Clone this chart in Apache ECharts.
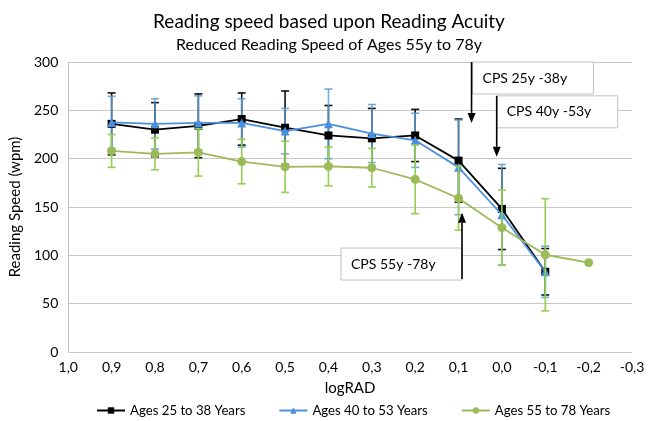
<!DOCTYPE html>
<html>
<head>
<meta charset="utf-8">
<script src="https://cdn.jsdelivr.net/npm/echarts@6/dist/echarts.min.js"></script>
<style>html,body{margin:0;padding:0;background:#fff}#c{width:658px;height:421px}</style>
</head>
<body>
<div id="c"></div>
<script>
// ---- data ----
const xs = [0.9, 0.8, 0.7, 0.6, 0.5, 0.4, 0.3, 0.2, 0.1, 0.0, -0.1];
const xsOlder = [0.9, 0.8, 0.7, 0.6, 0.5, 0.4, 0.3, 0.2, 0.1, 0.0, -0.1, -0.2];
const seriesNames = ['Ages 25 to 38 Years', 'Ages 40 to 53 Years', 'Ages 55 to 78 Years'];
const young = [236, 230, 234, 241, 232, 224, 221, 224, 198, 148, 83];
const youngErr = [32, 28, 33, 27, 38, 31, 31, 27, 43, 42, 24];
const middle = [237.5, 236, 237, 237, 228.5, 236, 226, 219, 191, 142, 83];
const middleErr = [27, 26, 28, 25, 23.5, 36, 30, 28, 49, 52, 26.5];
const older = [208, 205, 206.5, 197, 191.6, 192, 190.6, 178.6, 159, 128.6, 100.6, 92.4];
const olderErr = [17, 16.5, 24.5, 23, 26.5, 20, 20, 35.5, 33, 39, 58, null];
const yTicks = [0, 50, 100, 150, 200, 250, 300];
// annotations: arrow x (logRAD), arrow tail y, arrow tip y (wpm), label
const annX = [0.07, 0.012, 0.092];
const annTail = [300, 265, 75.5];
const annTip = [237, 202, 144];
const annLabels = ['CPS 25y -38y', 'CPS 40y -53y', 'CPS 55y -78y'];
const annPlace = ['rightDown', 'rightDown', 'leftUp'];

const FONT = 'Lato';
const cBlack = '#000000', cBlue = '#4A8FE0', cGreen = '#9BBB59';
const eBlack = '#111111', eBlue = 'rgba(91,155,213,0.85)', eGreen = '#92D050';

function errRender(color) {
  return function (params, api) {
    const x = api.value(0), m = api.value(1), e = api.value(2);
    if (e == null || isNaN(e)) return null;
    const t = api.coord([x, m + e]), b = api.coord([x, m - e]);
    const hw = 4;
    const st = { stroke: color, lineWidth: 1.6 };
    return {
      type: 'group',
      children: [
        { type: 'line', shape: { x1: t[0], y1: t[1], x2: b[0], y2: b[1] }, style: st },
        { type: 'line', shape: { x1: t[0] - hw, y1: t[1], x2: t[0] + hw, y2: t[1] }, style: st },
        { type: 'line', shape: { x1: b[0] - hw, y1: b[1], x2: b[0] + hw, y2: b[1] }, style: st }
      ]
    };
  };
}

function annRender(params, api) {
  const i = params.dataIndex;
  const tail = api.coord([api.value(0), api.value(1)]);
  const tip = api.coord([api.value(0), api.value(2)]);
  const w = 121, h = 32;
  let bx, by;
  if (annPlace[i] === 'rightDown') { bx = tail[0] + (i === 0 ? 1 : 0); by = tail[1]; }
  else { bx = tail[0] - w; by = tail[1] - h + 1; }
  const dir = tip[1] > tail[1] ? 1 : -1;
  const ah = 10, aw = 4;
  return {
    type: 'group',
    children: [
      { type: 'rect', shape: { x: bx, y: by, width: w, height: h },
        style: { fill: '#fff', stroke: '#BFBFBF', lineWidth: 1 } },
      { type: 'text', style: { x: bx + 10, y: by + h / 2, text: annLabels[i], fill: '#000',
          font: '14px ' + FONT, textVerticalAlign: 'middle', textAlign: 'left' } },
      { type: 'line', shape: { x1: tail[0], y1: tail[1], x2: tip[0], y2: tip[1] - dir * ah },
        style: { stroke: '#000', lineWidth: 1.6 } },
      { type: 'polygon', shape: { points: [[tip[0], tip[1]], [tip[0] - aw, tip[1] - dir * ah], [tip[0] + aw, tip[1] - dir * ah]] },
        style: { fill: '#000' } }
    ]
  };
}

const chart = echarts.init(document.getElementById('c'), null, { renderer: 'canvas' });
chart.setOption({
  animation: false,
  textStyle: { fontFamily: FONT },
  title: {
    text: 'Reading speed based upon Reading Acuity',
    subtext: 'Reduced Reading Speed of Ages 55y to 78y',
    left: 'center', top: 7, itemGap: 6,
    textStyle: { fontFamily: FONT, fontSize: 19, fontWeight: 'normal', color: '#000' },
    subtextStyle: { fontFamily: FONT, fontSize: 16, color: '#000' }
  },
  grid: { left: 68, right: 26, top: 62, bottom: 69, containLabel: false },
  legend: {
    data: seriesNames,
    top: 404, left: 96, padding: 0,
    itemWidth: 28, itemHeight: 8, itemGap: 33,
    textStyle: { fontFamily: FONT, fontSize: 13.2, color: '#000' }
  },
  xAxis: {
    type: 'value', min: -0.3, max: 1.0, interval: 0.1, inverse: true,
    name: 'logRAD', nameLocation: 'middle', nameGap: 29,
    nameTextStyle: { fontFamily: FONT, fontSize: 15, color: '#000' },
    axisLine: { show: false }, axisTick: { show: false }, splitLine: { show: false },
    axisLabel: {
      fontFamily: FONT, fontSize: 14, color: '#000', margin: 8,
      formatter: v => (Math.abs(v) < 1e-9 ? 0 : v).toFixed(1).replace('.', ',')
    }
  },
  yAxis: {
    type: 'value', min: yTicks[0], max: yTicks[yTicks.length - 1], interval: yTicks[1] - yTicks[0],
    name: 'Reading Speed (wpm)', nameLocation: 'middle', nameGap: 38,
    nameTextStyle: { fontFamily: FONT, fontSize: 15, color: '#000' },
    axisLine: { show: true, onZero: false, lineStyle: { color: '#BFBFBF', width: 1 } },
    axisTick: { show: false },
    splitLine: { lineStyle: { color: '#C8C8C8', width: 1.2 } },
    axisLabel: { fontFamily: FONT, fontSize: 14, color: '#000', margin: 10 }
  },
  series: [
    { type: 'custom', name: 'errYoung', renderItem: errRender(eBlack), encode: { x: 0, y: 1 },
      data: xs.map((x, i) => [x, young[i], youngErr[i]]), z: 1, silent: true },
    { type: 'custom', name: 'errMiddle', renderItem: errRender(eBlue), encode: { x: 0, y: 1 },
      data: xs.map((x, i) => [x, middle[i], middleErr[i]]), z: 1, silent: true },
    { type: 'line', name: seriesNames[0], data: xs.map((x, i) => [x, young[i]]),
      symbol: 'rect', symbolSize: 8, lineStyle: { color: cBlack, width: 1.8 },
      itemStyle: { color: cBlack }, z: 3 },
    { type: 'line', name: seriesNames[1], data: xs.map((x, i) => [x, middle[i]]),
      symbol: 'triangle', symbolSize: 9, lineStyle: { color: cBlue, width: 1.8 },
      itemStyle: { color: cBlue }, z: 4 },
    { type: 'custom', name: 'errOlder', renderItem: errRender(eGreen), encode: { x: 0, y: 1 },
      data: xsOlder.map((x, i) => [x, older[i], olderErr[i]]), z: 5, silent: true },
    { type: 'line', name: seriesNames[2], data: xsOlder.map((x, i) => [x, older[i]]),
      symbol: 'circle', symbolSize: 9, lineStyle: { color: cGreen, width: 1.8 },
      itemStyle: { color: cGreen }, z: 6 },
    { type: 'custom', name: 'annotations', renderItem: annRender, encode: { x: 0, y: 1 },
      data: annX.map((x, i) => [x, annTail[i], annTip[i]]), z: 10, silent: true, clip: false }
  ]
});
</script>
</body>
</html>
